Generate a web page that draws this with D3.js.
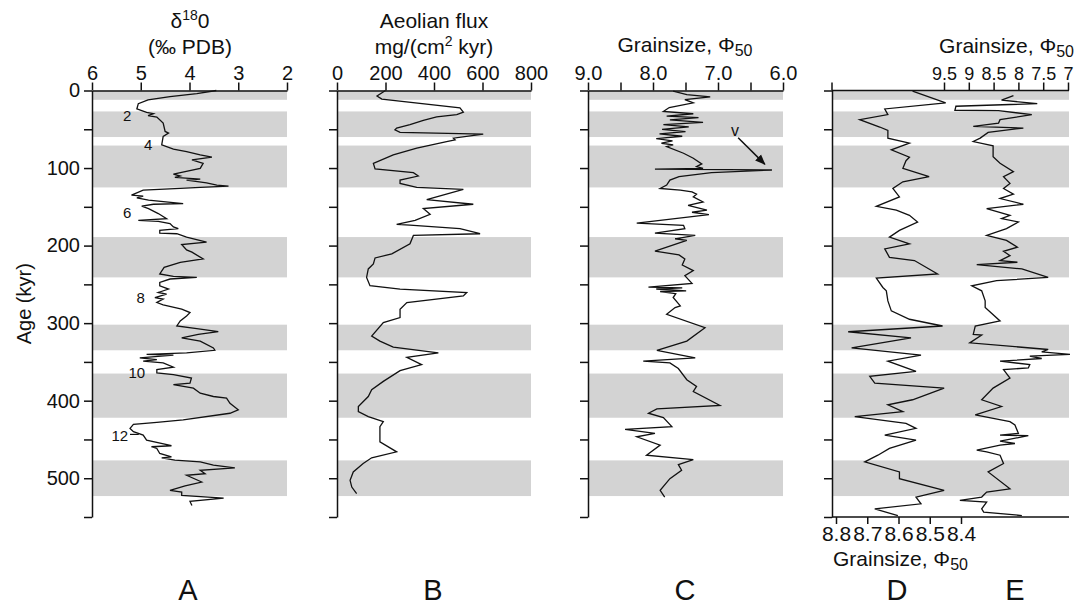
<!DOCTYPE html>
<html>
<head>
<meta charset="utf-8">
<script src="https://cdn.jsdelivr.net/npm/d3@7"></script>
<style>
  body { margin: 0; background: #fff; }
  svg { display: block; font-family: "Liberation Sans", Arial, Helvetica, sans-serif; }
</style>
</head>
<body>
<svg id="chart" width="1075" height="607"></svg>
<script>
// ---- shaded interglacial intervals (kyr) ----
const bandStart = [0, 27, 71, 189, 302, 365, 477];
const bandEnd   = [12, 60, 125, 241, 335, 422, 523];

// ---- age axis ----
const ageTicks  = [0, 50, 100, 150, 200, 250, 300, 350, 400, 450, 500, 550];
const ageLabels = [0, 100, 200, 300, 400, 500];

// ---- top / bottom axis ticks ----
const ticksA = [6, 5, 4, 3, 2];
const ticksB = [0, 200, 400, 600, 800];
const ticksC = [9, 8.5, 8, 7.5, 7, 6.5, 6];
const labelsC = [9, 8, 7, 6];
const ticksE = [9.5, 9, 8.5, 8, 7.5, 7];
const ticksD = [8.8, 8.7, 8.6, 8.5, 8.4];

// ---- A: benthic d18O (per mil PDB) ----
const ageA = [0,4,8,12,17,23.8,28.1,29.9,32.4,34.2,42,52.8,55,59.3,70,75.7,78.7,83,86,89.6,93.9,100.4,104.7,107.7,110.3,112,114.2,115.5,119,122,123.3,125,126.3,128.5,135,136.3,138.5,141.5,145.8,146.7,149.2,152.3,158.7,165.2,167.4,168.7,171.7,176,178.2,180.4,183.9,184.7,189,195.6,198.6,205.5,208.5,217.2,221.5,228,236.6,239.7,241,243.1,247.5,251.8,256,260.5,262.6,267,269,273.4,276.4,282,286.4,290.7,297.2,303.7,307.2,311,314.5,318.9,323.2,331.9,335,338.4,340.4,341.3,344.8,347,349.1,351.3,356.9,359.9,364.3,366.4,370.8,377.3,379.4,383.8,390.3,394.6,396.8,403.3,411.8,416.2,424.8,427.9,430.5,435.7,440,444.3,450.8,458.1,459.4,461.6,468.1,472.4,473.7,476.7,478.9,483.2,486.7,489.7,494.1,496.2,504.9,510,515.6,517.8,522.1,525.6,529.9,535.1];
const d18O = [3.45,3.85,4.4,4.85,5.05,5.08,4.88,4.74,4.85,4.67,4.54,4.50,4.43,4.54,4.57,4.33,4.06,3.78,3.54,3.95,3.72,3.78,4.09,4.33,4.19,4.30,3.78,4.06,3.65,3.44,3.20,3.78,4.19,4.95,5.19,4.95,5.08,4.84,4.13,4.74,4.98,4.84,4.64,4.47,5.05,4.64,4.40,4.33,4.23,4.61,4.61,4.26,4.06,3.65,4.16,4.06,3.95,3.72,4.19,4.52,4.61,4.33,3.85,4.40,4.61,4.61,4.43,4.64,4.47,4.71,4.54,4.67,4.54,4.16,3.99,4.06,4.19,4.26,3.85,3.41,3.82,4.16,3.78,3.51,3.48,4.06,4.88,4.33,5.02,4.67,4.95,4.54,4.33,4.67,4.67,4.33,3.96,3.99,4.33,3.92,3.78,3.51,3.24,3.17,3.00,3.17,4.13,4.67,5.15,5.22,5.15,4.95,4.88,4.37,4.78,4.67,4.61,4.37,4.57,4.30,3.78,3.51,3.07,3.78,3.68,4.06,3.75,4.09,4.40,4.16,4.16,3.30,3.99,3.95];

// ---- B: aeolian flux, mg/(cm2 kyr) ----
const ageB = [0,7,11,22.5,28,31,34,38.5,44,48.5,50.6,54,56.2,61.4,63.6,65.8,74.4,83,94,101.2,106,110.3,115.5,119.8,125,127.6,140.6,146.7,152.3,159.6,167.4,172.6,173.5,178.2,184.7,186.9,197.7,210.7,215.9,223.7,230.1,241,251.8,256.1,260.5,264.8,273.4,282,292.9,299.4,316.7,323.2,331,338.4,344,353.4,361.2,375.1,385.9,394.6,407.5,414,420.5,427,433.5,453,466,473.7,481.1,491.9,502.7,511.4,520];
const fluxB = [200,165,185,507,521,494,411,356,301,246,239,260,603,480,487,452,329,232,150,157,315,335,260,260,329,521,370,562,356,384,322,246,301,507,590,315,301,226,157,150,129,122,136,260,535,521,288,260,260,191,143,177,232,418,288,349,260,191,143,129,88,88,129,191,177,177,246,143,108,67,54,61,81];

// ---- C: grain size, phi50 ----
const ageC = [0.9,5.2,8.2,11.7,16,22,27,30,33,35,38,41,44,47,50,53,56,59,62,65,68,70,72.3,80.9,87.3,94.7,98.2,100.3,101.5,102.5,106,111,115.5,122,126.3,128.5,130.7,133.7,137.2,143.7,148,154.4,157,160,170.9,173.9,178.2,183.9,186.9,191.2,193.4,207.2,212,217.2,225,232.3,238.8,248.8,253.5,254.5,256,258.3,259.2,262,267,277.7,279.9,288.6,305.9,323.2,335.2,344.8,349.1,351.3,358.6,372.9,381.6,388.1,406.2,410.5,416.2,421.8,433.5,437,442.2,446.5,457.3,470.3,476,482.5,489.7,500.6,515.6,524.3];
const phiC = [7.69,7.48,7.12,7.51,7.38,7.75,7.84,7.38,7.79,7.30,7.74,7.23,7.84,7.45,7.86,7.50,7.90,7.55,7.95,7.70,7.87,7.69,7.79,7.53,7.38,7.25,7.33,7.23,7.97,6.17,7.10,7.60,7.74,7.79,7.89,7.58,7.40,7.33,7.38,7.23,7.46,7.17,7.40,7.14,8.25,7.53,7.51,7.97,7.35,7.66,7.48,7.97,7.60,7.51,7.55,7.38,7.51,7.40,8.07,7.55,7.95,7.49,7.89,7.65,7.69,7.58,7.66,7.79,7.20,7.48,7.94,7.35,8.15,7.74,7.61,7.48,7.33,7.38,6.97,7.94,8.07,7.84,7.71,8.43,7.97,8.25,7.89,8.10,7.38,7.61,7.56,7.74,7.89,7.82];

// ---- D: grain size, phi50 (bottom scale) ----
const ageD = [0.9,16,23.8,31.1,37.6,47.1,51.5,61.4,67.9,76.6,86.1,90.5,100.4,111.2,117.7,126.3,137.2,149.3,154.4,160.9,169.6,180.4,189.1,197.7,204.2,215.1,219.3,236.6,241.8,254,258.3,271.3,284.2,295,303.7,311.1,318.9,331.9,341.3,349.1,362.1,368.6,377.3,383.8,398.8,405.3,414,420.5,429.2,435.7,444.3,450.8,461.6,470.3,478.9,491.9,500.6,515.6,524.3,533,539.5,548.1];
const phiD = [8.555,8.449,8.644,8.634,8.724,8.660,8.634,8.634,8.565,8.623,8.565,8.576,8.586,8.502,8.586,8.618,8.597,8.671,8.607,8.565,8.539,8.597,8.629,8.565,8.644,8.629,8.549,8.475,8.671,8.650,8.639,8.634,8.623,8.565,8.459,8.761,8.560,8.750,8.528,8.634,8.544,8.692,8.676,8.454,8.555,8.634,8.586,8.740,8.576,8.544,8.644,8.544,8.629,8.666,8.708,8.597,8.597,8.454,8.544,8.528,8.676,8.602];

// ---- E: grain size, phi50 (top scale) ----
const ageE = [6.5,12.5,16.9,20.3,25.5,26,31.1,37.6,42,46.3,48.4,54.1,61.4,65.8,71.4,85.3,93.8,104.7,111.2,119.8,126.3,133.7,139.3,146.7,152.3,160.9,165.2,169.6,178.2,186.9,193.4,202.1,207.3,212.9,219.3,221.5,224.5,230.1,241,245.3,251.8,258.3,271.3,279.9,297.2,303.7,314.5,315.4,325.4,334,337,340.4,342.6,345.6,349.1,353.4,357.8,359.9,370.8,383.8,398.8,407.5,418.3,427,431.3,442.2,444.3,445.2,452.1,455.2,457.3,463.7,465.9,470.3,481.1,491.9,513.6,517.8,524.3,528.6,530.8,539.5,543.8,548.1];
const phiE = [8.10,8.34,7.62,9.26,9.28,8.40,7.73,8.37,8.40,8.91,7.90,8.61,8.77,8.91,8.51,8.51,8.37,8.10,8.30,8.17,8.30,8.10,8.37,7.90,8.64,8.17,8.34,8.00,8.24,8.64,8.24,8.02,8.30,8.17,8.37,8.02,8.84,7.93,7.40,8.44,8.94,8.74,8.67,8.67,8.37,8.87,8.91,8.74,8.98,7.40,7.53,6.96,7.77,7.53,8.37,7.77,7.80,8.30,8.17,8.51,8.74,8.34,8.87,8.17,8.07,8.00,8.37,7.80,8.37,8.07,8.37,8.84,8.64,8.37,8.30,8.61,8.17,8.64,8.74,9.18,8.64,8.74,8.70,7.93];

// ---- marine isotope stage labels on panel A ----
const stageText = ["2", "4", "6", "8", "10", "12"];
const stageAge  = [32.4, 70, 157.7, 267, 364, 445];
const stageVal  = [5.28, 4.85, 5.28, 5.0, 5.08, 5.43];

const svg = d3.select("#chart");
const FONT = '"Liberation Sans", Arial, Helvetica, sans-serif';
const GRAY = "#d3d3d3";

// shared age scale
const y = d3.scaleLinear().domain([0, 550]).range([90.5, 517]);

// per-panel value scales
const xA = d3.scaleLinear().domain([6, 2]).range([92, 287]);
const xB = d3.scaleLinear().domain([0, 800]).range([337, 531]);
const xC = d3.scaleLinear().domain([9, 6]).range([588, 783]);
const xE = d3.scaleLinear().domain([9.5, 7]).range([944, 1068]);
const xD = d3.scaleLinear().domain([8.8, 8.4]).range([836, 961]);

const panels = [
  { left: 92,  right: 287 },
  { left: 337, right: 531 },
  { left: 588, right: 783 },
  { left: 832, right: 1069 }
];

function zip(a, b) { return a.map((d, i) => ({ age: d, v: b[i] })); }

function styleAxis(g, size) {
  g.selectAll("path, line").attr("stroke", "#111").attr("stroke-width", 1.5);
  g.selectAll("text").attr("font-family", FONT).attr("font-size", size).attr("fill", "#111");
}

// shaded bands
panels.forEach(p => {
  svg.append("g").selectAll("rect")
    .data(bandStart.map((s, i) => [s, bandEnd[i]]))
    .join("rect")
    .attr("x", p.left)
    .attr("width", p.right - p.left)
    .attr("y", d => y(d[0]))
    .attr("height", d => y(d[1]) - y(d[0]))
    .attr("fill", GRAY);
});

// curves
const series = [
  { data: zip(ageA, d18O), x: xA },
  { data: zip(ageB, fluxB), x: xB },
  { data: zip(ageC, phiC), x: xC },
  { data: zip(ageD, phiD), x: xD },
  { data: zip(ageE, phiE), x: xE }
];
series.forEach(s => {
  svg.append("path")
    .datum(s.data)
    .attr("fill", "none")
    .attr("stroke", "#111")
    .attr("stroke-width", 1.3)
    .attr("stroke-linejoin", "miter")
    .attr("d", d3.line().x(d => s.x(d.v)).y(d => y(d.age)));
});

// left age axes
panels.forEach((p, i) => {
  const ax = d3.axisLeft(y).tickValues(ageTicks).tickSize(8).tickSizeOuter(0).tickPadding(4)
    .tickFormat(d => (i === 0 && ageLabels.includes(d)) ? d : "");
  const g = svg.append("g").attr("transform", `translate(${p.left},0)`).call(ax);
  styleAxis(g, 20);
});

// top value axes
function topAxis(scale, values, fmt, size) {
  const g = svg.append("g").attr("transform", `translate(0,${y(0)})`)
    .call(d3.axisTop(scale).tickValues(values).tickSize(8).tickSizeOuter(0).tickPadding(3).tickFormat(fmt));
  styleAxis(g, size);
  return g;
}
topAxis(xA, ticksA, d3.format("d"), 20);
topAxis(xB, ticksB, d3.format("d"), 20);
topAxis(xC, ticksC, d => labelsC.includes(d) ? d3.format(".1f")(d) : "", 20);
const gE = topAxis(xE, ticksE, d => String(d), 18);
gE.select(".domain").remove();

// frame lines of the combined D/E panel
const pDE = panels[3];
svg.append("line").attr("x1", pDE.left).attr("x2", pDE.right)
  .attr("y1", y(0)).attr("y2", y(0)).attr("stroke", "#111").attr("stroke-width", 1.5);
svg.append("line").attr("x1", pDE.left).attr("x2", pDE.left)
  .attr("y1", y(0) - 8).attr("y2", y(0)).attr("stroke", "#111").attr("stroke-width", 1.5);
svg.append("line").attr("x1", pDE.left).attr("x2", pDE.right)
  .attr("y1", y(550)).attr("y2", y(550)).attr("stroke", "#111").attr("stroke-width", 1.5);

// bottom axis for D
const gD = svg.append("g").attr("transform", `translate(0,${y(550)})`)
  .call(d3.axisBottom(xD).tickValues(ticksD).tickSize(7).tickSizeOuter(0).tickPadding(2).tickFormat(d3.format(".1f")));
gD.select(".domain").remove();
styleAxis(gD, 21);

// titles
function txt(x, yy, anchor, size) {
  return svg.append("text").attr("x", x).attr("y", yy).attr("text-anchor", anchor)
    .attr("font-family", FONT).attr("font-size", size).attr("fill", "#111");
}
const tA = txt(190, 28, "middle", 21);
tA.append("tspan").text("δ");
tA.append("tspan").attr("dy", -8).attr("font-size", 14).text("18");
tA.append("tspan").attr("dy", 8).text("0");
txt(190, 54, "middle", 21).text("(‰ PDB)");

txt(434, 28, "middle", 21).text("Aeolian flux");
const tB = txt(434, 54, "middle", 21);
tB.append("tspan").text("mg/(cm");
tB.append("tspan").attr("dy", -8).attr("font-size", 14).text("2");
tB.append("tspan").attr("dy", 8).text(" kyr)");

function grainTitle(x, yy, anchor) {
  const t = txt(x, yy, anchor, 21);
  t.append("tspan").text("Grainsize, Φ");
  t.append("tspan").attr("dy", 4).attr("font-size", 16).text("50");
  return t;
}
grainTitle(685, 52, "middle");
grainTitle(1074, 53, "end");
grainTitle(833, 566, "start");

// y-axis title
svg.append("text")
  .attr("transform", `translate(31,${y(275)}) rotate(-90)`)
  .attr("text-anchor", "middle")
  .attr("font-family", FONT).attr("font-size", 20).attr("fill", "#111")
  .text("Age (kyr)");

// panel letters
const letters = ["A", "B", "C", "D", "E"];
const letterX = [188, 433, 685, 897, 1015];
letters.forEach((l, i) => txt(letterX[i], 600, "middle", 29).text(l));

// isotope stage numbers
stageText.forEach((s, i) => {
  txt(xA(stageVal[i]), y(stageAge[i]), "middle", 15).attr("dy", "0.35em").text(s);
});
svg.append("line")
  .attr("x1", xA(5.22)).attr("x2", xA(5.04))
  .attr("y1", y(443.5)).attr("y2", y(443.5))
  .attr("stroke", "#111").attr("stroke-width", 1.2);

// arrow marking the coarse spike in C
svg.append("defs").append("marker")
  .attr("id", "arrow").attr("viewBox", "0 0 10 10").attr("refX", 9).attr("refY", 5)
  .attr("markerWidth", 7).attr("markerHeight", 7).attr("orient", "auto")
  .append("path").attr("d", "M0,1 L10,5 L0,9 Z").attr("fill", "#111");
txt(xC(6.74), y(51), "middle", 16).attr("dy", "0.35em").text("v");
svg.append("line")
  .attr("x1", xC(6.69)).attr("y1", y(61))
  .attr("x2", xC(6.28)).attr("y2", y(95))
  .attr("stroke", "#111").attr("stroke-width", 1.5)
  .attr("marker-end", "url(#arrow)");
</script>
</body>
</html>
